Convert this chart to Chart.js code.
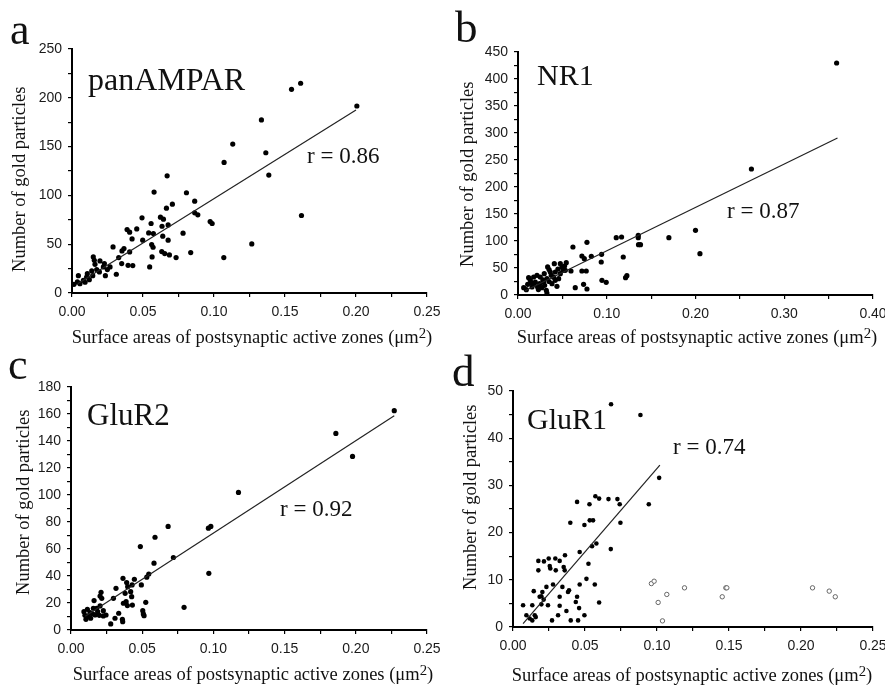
<!DOCTYPE html>
<html>
<head>
<meta charset="utf-8">
<script src="https://cdn.jsdelivr.net/npm/chart.js@4.4.0/dist/chart.umd.min.js"></script>
<style>
  body { margin: 0; background: #fff; }
  #wrap { position: relative; width: 885px; height: 686px; overflow: hidden; background: #fff; }
  canvas { position: absolute; }
  .txt { position: absolute; font-family: "Liberation Serif", "DejaVu Serif", serif; color: #111; line-height: 1; white-space: nowrap; }
  .xt { width: 400px; text-align: center; font-size: 18.5px; }
  .yt { width: 260px; text-align: center; font-size: 18.5px; transform: rotate(-90deg); }
  .xt sup, .yt sup { font-size: 0.8em; vertical-align: 0.35em; line-height: 0; }
</style>
</head>
<body>
<div id="wrap">
  <canvas id="chartA" width="440" height="340" style="left:0;top:0"></canvas>
  <canvas id="chartB" width="445" height="340" style="left:440px;top:0"></canvas>
  <canvas id="chartC" width="440" height="346" style="left:0;top:340px"></canvas>
  <canvas id="chartD" width="445" height="346" style="left:440px;top:340px"></canvas>

  <div class="txt" style="left:10px;top:8px;font-size:44px">a</div>
  <div class="txt" style="left:455px;top:5px;font-size:45px">b</div>
  <div class="txt" style="left:8px;top:343px;font-size:44px">c</div>
  <div class="txt" style="left:452px;top:349px;font-size:45px">d</div>

  <div class="txt" style="left:88px;top:63px;font-size:32px">panAMPAR</div>
  <div class="txt" style="left:537px;top:60px;font-size:30px">NR1</div>
  <div class="txt" style="left:87px;top:399px;font-size:31px">GluR2</div>
  <div class="txt" style="left:527px;top:404px;font-size:30px">GluR1</div>

  <div class="txt" style="left:307px;top:144px;font-size:23px">r = 0.86</div>
  <div class="txt" style="left:727px;top:199px;font-size:23px">r = 0.87</div>
  <div class="txt" style="left:280px;top:497px;font-size:23px">r = 0.92</div>
  <div class="txt" style="left:673px;top:435px;font-size:23px">r = 0.74</div>

  <div class="txt xt" style="left:52px;top:328px">Surface areas of postsynaptic active zones (μm<sup>2</sup>)</div>
  <div class="txt xt" style="left:497px;top:328px">Surface areas of postsynaptic active zones (μm<sup>2</sup>)</div>
  <div class="txt xt" style="left:53px;top:665px">Surface areas of postsynaptic active zones (μm<sup>2</sup>)</div>
  <div class="txt xt" style="left:492px;top:666px">Surface areas of postsynaptic active zones (μm<sup>2</sup>)</div>

  <div class="txt yt" style="left:-111px;top:170px">Number of gold particles</div>
  <div class="txt yt" style="left:337px;top:165px">Number of gold particles</div>
  <div class="txt yt" style="left:-107px;top:493px">Number of gold particles</div>
  <div class="txt yt" style="left:340px;top:488px">Number of gold particles</div>
</div>

<script>
// a: panAMPAR
const ampaX = [0.2006, 0.161, 0.1546, 0.1334, 0.1132, 0.1365, 0.1071, 0.1386, 0.067, 0.0578,
  0.0806, 0.0864, 0.0707, 0.0665, 0.0864, 0.0886, 0.1616, 0.0973, 0.0987, 0.0493,
  0.0623, 0.0644, 0.0557, 0.0677, 0.0634, 0.0388, 0.0456, 0.0406, 0.054, 0.0573,
  0.0782, 0.0423, 0.0498, 0.0677, 0.0639, 0.0561, 0.0571, 0.1266, 0.0289, 0.0366,
  0.0352, 0.0406, 0.0329, 0.0632, 0.0653, 0.0686, 0.0836, 0.0564, 0.0733, 0.1069,
  0.035, 0.0395, 0.0428, 0.0547, 0.0312, 0.0268, 0.0228, 0.0197, 0.015, 0.0157,
  0.0162, 0.0221, 0.0235, 0.0174, 0.0139, 0.0146, 0.0108, 0.0103, 0.008, 0.0045,
  0.0038, 0.0014, 0.0056, 0.0092, 0.0122, 0.0193, 0.0249];
const ampaY = [191.6, 214.9, 208.7, 177.3, 152.6, 143.7, 133.8, 120.8, 120.1, 103.4,
  102.7, 94.1, 91.0, 86.9, 82.1, 80.1, 79.4, 73.2, 71.2, 77.0,
  77.7, 75.6, 71.2, 69.8, 68.4, 65.0, 65.7, 62.3, 61.6, 60.9,
  61.3, 55.4, 54.1, 54.1, 58.2, 49.6, 46.9, 50.3, 47.2, 45.5,
  43.1, 42.1, 36.3, 42.4, 40.4, 39.0, 41.4, 37.0, 36.3, 36.3,
  30.1, 28.4, 28.1, 26.7, 19.2, 26.7, 30.1, 32.9, 37.0, 33.5,
  29.4, 26.7, 17.8, 24.0, 22.6, 17.8, 19.8, 16.4, 13.0, 17.8,
  11.3, 8.9, 9.6, 11.0, 13.7, 21.6, 24.0];
const ampaFitX = [0.004, 0.2];
const ampaFitY = [9.4, 187.6];

// b: NR1
const nr1X = [0.359, 0.263, 0.200, 0.205, 0.170, 0.1355, 0.1355, 0.1358, 0.138, 0.1107,
  0.1167, 0.1186, 0.1212, 0.1227, 0.0946, 0.0994, 0.0942, 0.0938, 0.0777, 0.0619,
  0.072, 0.0747, 0.0826, 0.072, 0.0769, 0.0739, 0.0777, 0.0645, 0.0597, 0.0544,
  0.0525, 0.0495, 0.0409, 0.0334, 0.0477, 0.0507, 0.0458, 0.042, 0.0375, 0.0326,
  0.0289, 0.0251, 0.0214, 0.0195, 0.0139, 0.0109, 0.0064, 0.0158, 0.0221, 0.027,
  0.0319, 0.0326, 0.0383, 0.0439, 0.042, 0.0364, 0.0296, 0.0244, 0.0176, 0.012,
  0.0094, 0.0477, 0.0533, 0.018, 0.028, 0.035, 0.040, 0.030, 0.015, 0.023, 0.045, 0.035];
const nr1Y = [429.6, 233.3, 119.8, 76.5, 106.2, 110.5, 106.2, 93.2, 93.2, 106.2,
  107.4, 70.4, 32.1, 35.8, 27.2, 23.5, 75.3, 61.1, 97.5, 88.9,
  72.2, 67.3, 71.6, 44.4, 44.4, 19.8, 11.1, 13.6, 44.4, 59.9,
  53.7, 51.9, 58.0, 51.9, 39.5, 45.7, 30.2, 42.6, 36.4, 30.2,
  24.1, 33.3, 36.4, 24.1, 27.2, 19.8, 13.6, 14.8, 14.8, 13.6,
  8.6, 3.7, 21.0, 16.0, 27.2, 42.6, 39.5, 21.0, 33.3, 32.1,
  9.9, 58.0, 45.7, 20.0, 28.0, 25.0, 33.0, 18.0, 22.0, 10.0, 48.0, 47.0];
const nr1FitX = [0.008, 0.36];
const nr1FitY = [8.0, 290.7];

// c: GluR2
const glur2X = [0.227, 0.186, 0.1977, 0.1176, 0.0682, 0.0965, 0.0982, 0.059, 0.0487, 0.0719,
  0.0583, 0.0968, 0.0546, 0.0532, 0.0794, 0.0525, 0.0504, 0.0508, 0.0513, 0.0445,
  0.0494, 0.0429, 0.0365, 0.0391, 0.0398, 0.038, 0.0419, 0.0426, 0.0431, 0.0396,
  0.0368, 0.0387, 0.0316, 0.0298, 0.0335, 0.0309, 0.0361, 0.0363, 0.0279, 0.0211,
  0.0204, 0.0216, 0.0162, 0.0204, 0.018, 0.0157, 0.0187, 0.0199, 0.0227, 0.0246,
  0.0134, 0.0122, 0.0091, 0.0098, 0.0105, 0.0138, 0.0169, 0.0115, 0.0152, 0.0227];
const glur2Y = [162.5, 145.6, 128.6, 101.9, 76.7, 75.4, 76.7, 68.7, 61.8, 53.7,
  49.5, 42.0, 41.5, 39.1, 16.8, 20.5, 14.3, 11.9, 10.6, 37.6,
  33.4, 33.4, 38.3, 35.1, 32.1, 27.2, 28.4, 24.7, 18.5, 18.1,
  19.8, 21.0, 30.9, 23.5, 12.4, 8.7, 7.9, 6.2, 4.5, 27.9,
  25.2, 23.5, 21.8, 17.8, 16.1, 16.1, 13.6, 10.9, 10.4, 11.1,
  12.9, 10.4, 13.6, 10.9, 7.9, 8.7, 11.1, 15.3, 11.9, 14.3];
const glur2FitX = [0.01, 0.227];
const glur2FitY = [10.2, 158.7];

// d: GluR1 (filled = synapses, open = second group)
const glur1X = [0.0681, 0.0885, 0.1015, 0.0943, 0.0445, 0.0531, 0.0572, 0.0598, 0.0663, 0.0725,
  0.0741, 0.0746, 0.0398, 0.0496, 0.0533, 0.0556, 0.0579, 0.0549, 0.0679, 0.0463,
  0.0361, 0.0176, 0.0215, 0.0248, 0.0294, 0.0324, 0.0255, 0.0259, 0.0297, 0.0352,
  0.0359, 0.0524, 0.0176, 0.051, 0.0568, 0.0463, 0.0278, 0.0343, 0.0382, 0.0389,
  0.0232, 0.0204, 0.0144, 0.0185, 0.0213, 0.0197, 0.0324, 0.0445, 0.0324, 0.0436,
  0.0459, 0.0598, 0.007, 0.0134, 0.0197, 0.0243, 0.0371, 0.0313, 0.0496, 0.0093,
  0.0151, 0.0116, 0.0134, 0.0158, 0.0271, 0.0401, 0.0452];
const glur1Y = [47.2, 44.9, 31.6, 26.0, 26.5, 26.0, 27.7, 27.2, 27.1, 27.1,
  26.0, 22.1, 22.1, 21.6, 22.6, 22.6, 17.7, 17.1, 16.5, 15.9,
  15.2, 14.0, 13.9, 14.5, 14.5, 14.0, 12.9, 12.4, 12.0, 12.7,
  12.0, 13.4, 12.0, 10.2, 9.0, 9.0, 9.0, 8.5, 7.4, 7.8,
  8.5, 7.4, 7.6, 6.4, 5.8, 6.5, 6.4, 6.4, 4.5, 5.3,
  4.0, 5.2, 4.6, 4.6, 4.8, 4.6, 3.4, 2.5, 2.5, 2.5,
  2.5, 1.8, 1.4, 2.1, 1.4, 1.4, 1.4];
const glur1OpenX = [0.0961, 0.098, 0.1008, 0.1038, 0.1068, 0.1191, 0.1453, 0.1478, 0.1485, 0.208, 0.2196, 0.2238];
const glur1OpenY = [9.2, 9.7, 5.2, 1.3, 6.9, 8.3, 6.4, 8.3, 8.3, 8.3, 7.6, 6.4];
const glur1FitX = [0.007, 0.102];
const glur1FitY = [0.7, 34.3];

const tickFont = { family: '"Liberation Sans", Arial, sans-serif', size: 14 };
const tickColor = '#1a1a1a';

function pts(xs, ys) {
  return xs.map((x, i) => ({ x: x, y: ys[i] }));
}

function isMajor(v, step) {
  return Math.abs(v / step - Math.round(v / step)) < 1e-6;
}

function crearPanel(id, p) {
  const datasets = [{
    data: pts(p.fitX, p.fitY),
    showLine: true,
    borderColor: '#222',
    borderWidth: 1.2,
    pointRadius: 0
  }, {
    data: pts(p.xs, p.ys),
    pointRadius: p.r,
    backgroundColor: '#000',
    borderWidth: 0
  }];
  if (p.openX) {
    datasets.push({
      data: pts(p.openX, p.openY),
      pointRadius: 2.2,
      backgroundColor: '#fff',
      borderColor: '#666',
      borderWidth: 1
    });
  }

  const grid = { drawOnChartArea: false, drawTicks: true, tickLength: 4, color: '#000', lineWidth: 1.2 };
  const border = { display: true, color: '#000', width: 2 };

  new Chart(document.getElementById(id).getContext('2d'), {
    type: 'scatter',
    data: { datasets },
    options: {
      responsive: false,
      animation: false,
      devicePixelRatio: 1,
      layout: { padding: { top: p.top, right: p.right, left: 0, bottom: 0 } },
      plugins: { legend: { display: false }, tooltip: { enabled: false } },
      scales: {
        x: {
          type: 'linear',
          min: 0,
          max: p.xMax,
          ticks: {
            stepSize: p.xStep,
            autoSkip: false,
            maxRotation: 0,
            padding: 7,
            font: tickFont,
            color: tickColor,
            callback: v => isMajor(v, p.xMajor) ? v.toFixed(2) : ''
          },
          grid: grid,
          border: border,
          afterFit: s => { s.height = p.xh; s.paddingLeft = 0; s.paddingRight = 0; }
        },
        y: {
          type: 'linear',
          min: 0,
          max: p.yMax,
          ticks: {
            stepSize: p.yStep,
            autoSkip: false,
            padding: 6,
            font: tickFont,
            color: tickColor,
            callback: v => isMajor(v, p.yMajor) ? String(v) : ''
          },
          grid: grid,
          border: border,
          afterFit: s => { s.width = p.yw; s.paddingTop = 0; s.paddingBottom = 0; }
        }
      }
    }
  });
}

crearPanel('chartA', {
  xs: ampaX, ys: ampaY, fitX: ampaFitX, fitY: ampaFitY, r: 2.6,
  xMax: 0.25, xStep: 0.025, xMajor: 0.05, yMax: 250, yStep: 25, yMajor: 50,
  top: 49, right: 13, yw: 72, xh: 47
});
crearPanel('chartB', {
  xs: nr1X, ys: nr1Y, fitX: nr1FitX, fitY: nr1FitY, r: 2.6,
  xMax: 0.4, xStep: 0.05, xMajor: 0.1, yMax: 450, yStep: 25, yMajor: 50,
  top: 52, right: 12, yw: 78, xh: 45
});
crearPanel('chartC', {
  xs: glur2X, ys: glur2Y, fitX: glur2FitX, fitY: glur2FitY, r: 2.6,
  xMax: 0.25, xStep: 0.025, xMajor: 0.05, yMax: 180, yStep: 10, yMajor: 20,
  top: 47, right: 13, yw: 71, xh: 56
});
crearPanel('chartD', {
  xs: glur1X, ys: glur1Y, openX: glur1OpenX, openY: glur1OpenY, fitX: glur1FitX, fitY: glur1FitY, r: 2.3,
  xMax: 0.25, xStep: 0.025, xMajor: 0.05, yMax: 50, yStep: 5, yMajor: 10,
  top: 51, right: 12, yw: 73, xh: 59
});
</script>
</body>
</html>
